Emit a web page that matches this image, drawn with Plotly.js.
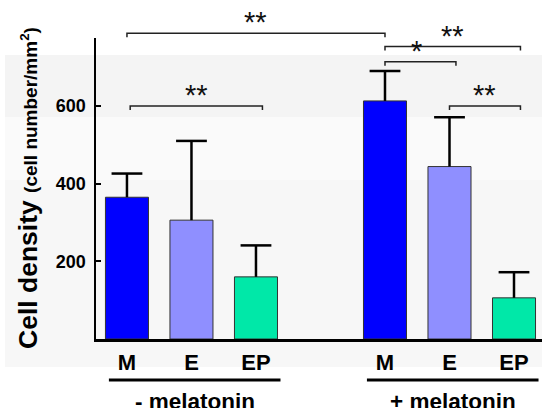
<!DOCTYPE html>
<html>
<head>
<meta charset="utf-8">
<script src="https://cdn.plot.ly/plotly-3.0.1.min.js"></script>
<style>html,body{margin:0;padding:0;background:#fff;}#chart{width:542px;height:408px;}</style>
</head>
<body>
<div id="chart"></div>
<script>
// ---- data ----
var categories = ["M", "E", "EP"];
var groups = ["- melatonin", "+ melatonin"];
var minusMelatonin = [365, 306, 160];
var minusMelatoninErr = [61, 204, 81];
var plusMelatonin = [613, 444, 106];
var plusMelatoninErr = [77, 127, 66];
var yTickVals = [200, 400, 600];
// significance brackets: [fromBarIndex, toBarIndex, level (cell density units), label]
var brackets = [
  [0, 3, 787, "**"],
  [0, 2, 600, "**"],
  [3, 5, 753, "**"],
  [3, 4, 714, "*"],
  [4, 5, 600, "**"]
];

// ---- layout constants ----
var W = 542, H = 408;
var mL = 96, mR = 0, mT = 38, mB = 69;
var plotW = W - mL - mR, plotH = H - mT - mB;
var yMax = 775;
var colors = ["#0000ff", "#8f8fff", "#00e8a8"];
var groupGap = 4; // x offset between groups
var FONT = "Liberation Sans, Arial, sans-serif";

function px2paperX(px) { return (px - mL) / plotW; }
function py2paperY(py) { return (H - mB - py) / plotH; }

// build bar positions
var xs = [], ys = [], errs = [], tops = [], cols = [], labels = [];
[minusMelatonin, plusMelatonin].forEach(function (vals, g) {
  var e = g === 0 ? minusMelatoninErr : plusMelatoninErr;
  vals.forEach(function (v, i) {
    xs.push(g * groupGap + i);
    ys.push(v);
    errs.push(e[i]);
    tops.push(v + e[i]);
    cols.push(colors[i]);
    labels.push(categories[i]);
  });
});

// bars with upper error whiskers (no caps: caps drawn by the marker trace below)
var barTrace = {
  type: "bar",
  x: xs,
  y: ys,
  width: 0.667,
  marker: { color: cols, line: { color: "#333", width: 1 } },
  error_y: {
    type: "data",
    symmetric: false,
    array: errs,
    arrayminus: errs.map(function () { return 0; }),
    color: "#000",
    thickness: 2.5,
    width: 0
  },
  hoverinfo: "skip"
};
// top caps of the error bars
var capTrace = {
  type: "scatter",
  mode: "markers",
  x: xs,
  y: tops,
  marker: { symbol: "line-ew", size: 22, color: "#000", line: { color: "#000", width: 2.5 } },
  cliponaxis: false,
  hoverinfo: "skip"
};

var shapes = [];
var annotations = [];

// background bands
var bands = [
  [55, 117, "#f4f4f4"],
  [117, 180, "#fafafa"],
  [180, 367, "#f7f7f7"]
];
bands.forEach(function (b) {
  shapes.push({
    type: "rect", xref: "paper", yref: "paper", layer: "below",
    x0: px2paperX(5), x1: px2paperX(W + 2),
    y0: py2paperY(b[1]), y1: py2paperY(b[0]),
    fillcolor: b[2], line: { width: 0 }
  });
});

// significance brackets
brackets.forEach(function (b) {
  var x0 = xs[b[0]] + (b[0] === 0 && b[1] === 2 ? 0.05 : 0);
  var x1 = xs[b[1]] + (b[1] === 3 ? 0 : 0.1);
  var yTop = b[2] / yMax;
  var drop = 4 / plotH;
  shapes.push({
    type: "path", xref: "x", yref: "paper",
    path: "M" + x0 + "," + (yTop - drop) + " L" + x0 + "," + yTop + " L" + x1 + "," + yTop + " L" + x1 + "," + (yTop - drop),
    line: { color: "#222", width: 1.5 }
  });
  annotations.push({
    xref: "x", yref: "paper",
    x: (x0 + x1) / 2 - (b[3] === "*" ? 0.06 : 0), y: yTop - 7 / plotH,
    xanchor: "center", yanchor: "bottom",
    text: b[3], showarrow: false,
    font: { family: FONT, size: 29, color: "#111" }
  });
});

// group underlines and labels
groups.forEach(function (gname, g) {
  var first = g * groupGap, last = g * groupGap + categories.length - 1;
  var gx0 = first - 0.28, gx1 = last + 0.38;
  shapes.push({
    type: "line", xref: "x", yref: "paper",
    x0: gx0, x1: gx1, y0: py2paperY(380), y1: py2paperY(380),
    line: { color: "#000", width: 3 }
  });
  annotations.push({
    xref: "x", yref: "paper",
    x: (gx0 + gx1) / 2, y: py2paperY(401),
    xanchor: "center", yanchor: "middle",
    text: "<b>" + gname + "</b>", showarrow: false,
    font: { family: FONT, size: 22.5, color: "#000" }
  });
});

// y-axis title
annotations.push({
  xref: "paper", yref: "paper",
  x: px2paperX(28), y: py2paperY(188),
  xanchor: "center", yanchor: "middle",
  textangle: -90, showarrow: false,
  text: "<b>Cell density </b><span style='font-size:19px'><b>(cell number/mm<sup>2</sup>)</b></span>",
  font: { family: FONT, size: 26.5, color: "#000" }
});

var layout = {
  width: W, height: H,
  margin: { l: mL, r: mR, t: mT, b: mB, pad: 0 },
  paper_bgcolor: "#ffffff",
  plot_bgcolor: "rgba(0,0,0,0)",
  showlegend: false,
  bargap: 0,
  xaxis: {
    range: [-0.48, 6.434],
    tickvals: xs, ticktext: labels,
    showline: true, linecolor: "#000", linewidth: 2.5,
    ticks: "", showgrid: false, zeroline: false,
    ticklabelstandoff: 2,
    tickfont: { family: FONT, size: 22, color: "#000", weight: "bold" }
  },
  yaxis: {
    range: [0, yMax],
    tickvals: yTickVals,
    showline: true, linecolor: "#000", linewidth: 2.5,
    ticks: "inside", ticklen: 5, tickwidth: 2, tickcolor: "#000",
    showgrid: false, zeroline: false,
    ticklabelstandoff: 4,
    tickfont: { family: FONT, size: 18, color: "#000", weight: "bold" }
  },
  shapes: shapes,
  annotations: annotations
};

Plotly.newPlot("chart", [barTrace, capTrace], layout, { displayModeBar: false, staticPlot: true });
</script>
</body>
</html>
